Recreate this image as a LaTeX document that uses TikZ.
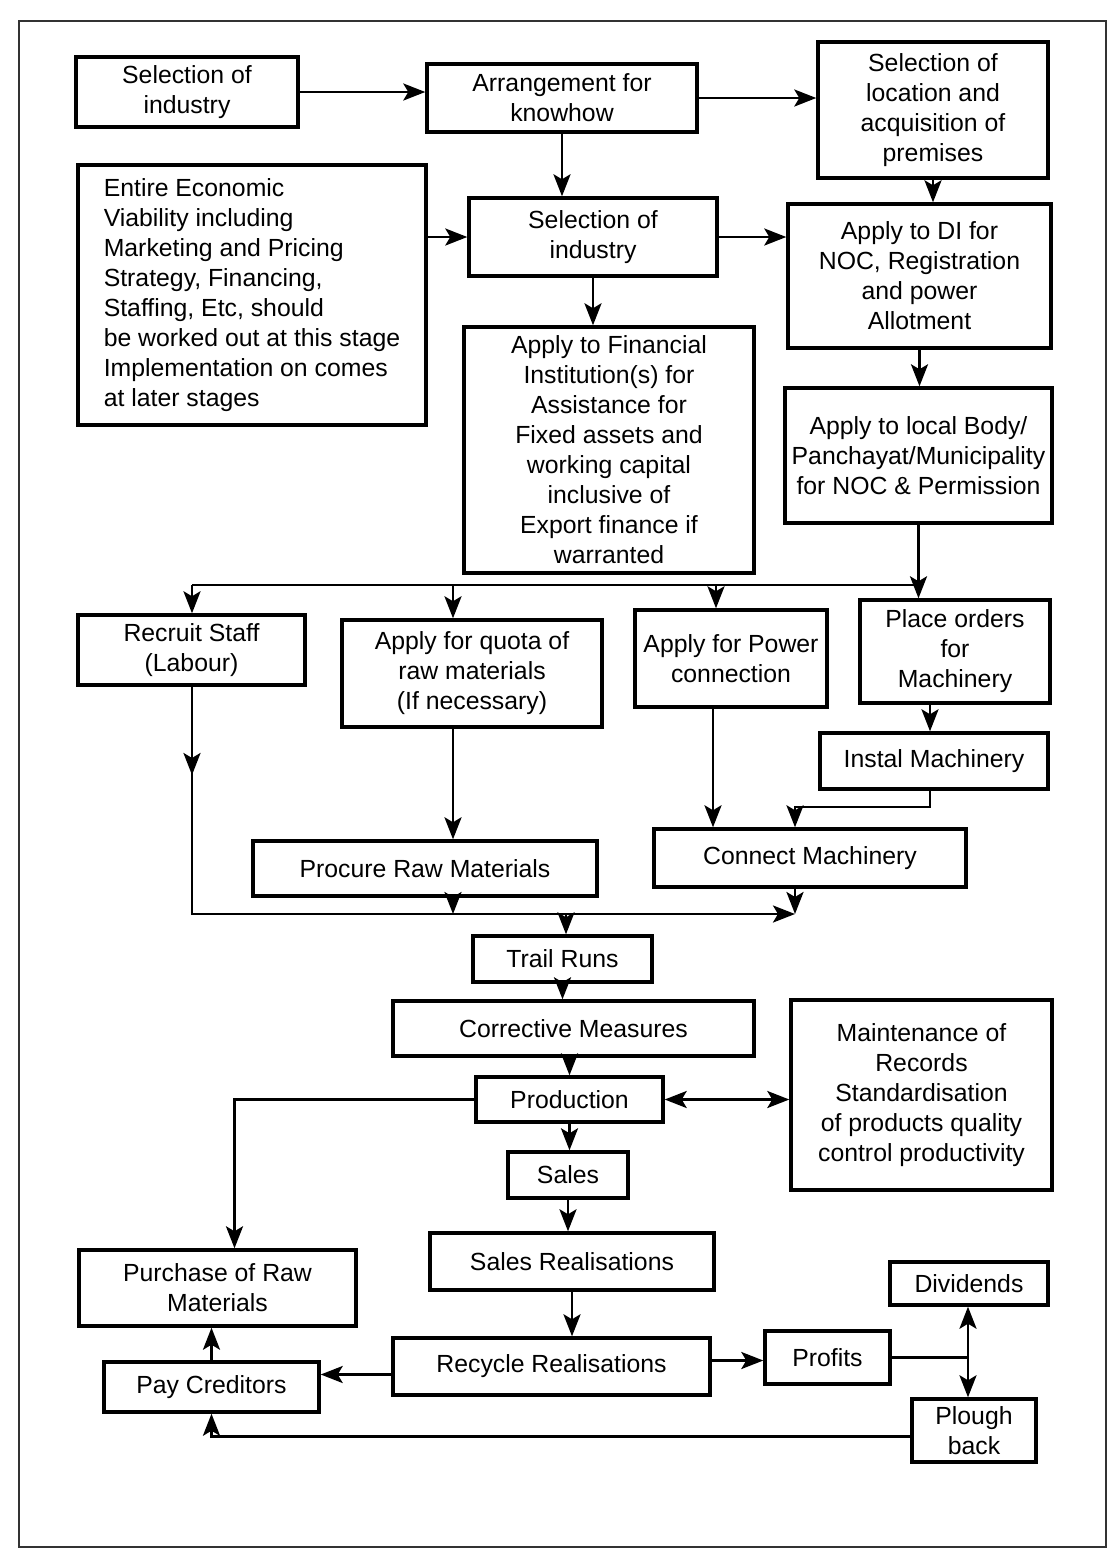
\documentclass[tikz,border=0pt]{standalone}
\usepackage{fontspec}
\setmainfont{Liberation Sans}
\usetikzlibrary{arrows.meta,calc}

% box from corner coordinates: [options]{name}{x1}{y1}{x2}{y2}{text}
\newcommand\fbx[7][]{%
  \pgfmathsetmacro\bw{(#5-#3)*0.5}%
  \pgfmathsetmacro\bh{(#6-#4)*0.5}%
  \node[box,minimum width=\bw pt,minimum height=\bh pt,#1] (#2)
    at ({(#3+#5)/2},{(#4+#6)/2}) {#7};}

\begin{document}
\begin{tikzpicture}[x=0.5pt,y=-0.5pt,
  box/.style={draw,line width=1.7pt,inner sep=0pt,align=center,
    font=\fontsize{12.4}{15}\selectfont},
  link/.style={line width=1.4pt},
  tip/.tip={Stealth[length=11pt,width=8.5pt,inset=2.5pt]},
  arr/.style={link,-tip},
  darr/.style={link,tip-tip}]

\useasboundingbox[fill=white] (0,0) rectangle (1119,1555);
\draw[line width=1pt,black!80] (19,21) rectangle (1106,1547);

% planning stage
\fbx{sel1}{76}{57}{298}{127}{Selection of\\industry}
\fbx{know}{427}{64}{697}{132}{Arrangement for\\knowhow}
\fbx{loc}{818}{42}{1048}{178}{Selection of\\location and\\acquisition of\\premises}
\fbx[align=left]{ent}{78}{165}{426}{425}{Entire Economic\\Viability including\\Marketing and Pricing\\Strategy, Financing,\\Staffing, Etc, should\\be worked out at this stage\\Implementation on comes\\at later stages}
\fbx{sel2}{469}{198}{717}{276}{Selection of\\industry}
\fbx{di}{788}{204}{1051}{348}{Apply to DI for\\NOC, Registration\\and power\\Allotment}
\fbx{fin}{464}{327}{754}{573}{Apply to Financial\\Institution(s) for\\Assistance for\\Fixed assets and\\working capital\\inclusive of\\Export finance if\\warranted}
\fbx{local}{785}{388}{1052}{523}{Apply to local Body/\\Panchayat/Municipality\\for NOC \& Permission}

% implementation stage
\fbx{recruit}{78}{615}{305}{685}{Recruit Staff\\(Labour)}
\fbx{quota}{342}{620}{602}{727}{Apply for quota of\\raw materials\\(If necessary)}
\fbx{power}{635}{610}{827}{707}{Apply for Power\\connection}
\fbx{place}{860}{600}{1050}{703}{Place orders\\for\\Machinery}
\fbx{instal}{820}{733}{1048}{789}{Instal Machinery}
\fbx{procure}{253}{841}{597}{896}{Procure Raw Materials}
\fbx{connect}{654}{829}{966}{887}{Connect Machinery}
\fbx{trail}{473}{936}{652}{982}{Trail Runs}
\fbx{corr}{393}{1001}{754}{1056}{Corrective Measures}
\fbx{maint}{791}{1000}{1052}{1190}{Maintenance of\\Records\\Standardisation\\of products quality\\control productivity}
\fbx{prod}{476}{1077}{663}{1122}{Production}
\fbx{sales}{508}{1152}{628}{1198}{Sales}
\fbx{sreal}{430}{1233}{714}{1290}{Sales Realisations}
\fbx{purch}{79}{1250}{356}{1326}{Purchase of Raw\\Materials}
\fbx{divid}{890}{1262}{1048}{1305}{Dividends}
\fbx{recyc}{393}{1338}{710}{1395}{Recycle Realisations}
\fbx{profit}{765}{1331}{890}{1384}{Profits}
\fbx{pay}{104}{1362}{319}{1412}{Pay Creditors}
\fbx{plough}{912}{1399}{1036}{1462}{Plough\\back}

% junction points of the connectors
\coordinate (busR) at (919,585);
\coordinate (busL) at (192,585);
\coordinate (busQ) at (453,585);
\coordinate (busP) at (716,585);
\coordinate (rawX) at (453,0);
\coordinate (powX) at (713,0);
\coordinate (macX) at (930,0);
\coordinate (jmac) at (795,807);
\coordinate (botR) at (795,914);
\coordinate (botT) at (566,914);
\coordinate (midR) at (192,775);
\coordinate (jdiv) at (968,1357);
\coordinate (purIn) at ($(purch.north)+(17,0)$);
\coordinate (recL) at ($(recyc.west)+(0,8)$);
\coordinate (recR) at ($(recyc.east)+(0,-6)$);
\coordinate (plL) at ($(plough.west)+(0,6)$);

% top section
\draw[arr] (sel1.east) -- (sel1.east -| know.west);
\draw[arr] (know.east) -- (know.east -| loc.west);
\draw[arr] (know.south) -- (know.south |- sel2.north);
\draw[arr] (loc.south) -- (loc.south |- di.north);
\draw[arr] (sel2.west -| ent.east) -- (sel2.west);
\draw[arr] (sel2.east) -- (sel2.east -| di.west);
\draw[arr] (sel2.south) -- (sel2.south |- fin.north);
\draw[arr] (di.south) -- (di.south |- local.north);

% distribution bus
\draw[arr] (local.south) -- (local.south |- place.north);
\draw[link] (busR) -- (busL);
\draw[arr] (busL) -- (busL |- recruit.north);
\draw[arr] (busQ) -- (busQ |- quota.north);
\draw[arr] (busP) -- (busP |- power.north);

% middle section
\draw[arr] (quota.south -| rawX) -- (procure.north -| rawX);
\draw[arr] (power.south -| powX) -- (connect.north -| powX);
\draw[arr] (place.south -| macX) -- (instal.north -| macX);
\draw[arr] (instal.south -| macX) |- (jmac) -- (jmac |- connect.north);
\draw[arr] (recruit.south -| midR) -- (midR);
\draw[arr] (recruit.south -| midR) |- (botR);
\draw[arr] (procure.south -| rawX) -- (rawX |- botR);
\draw[arr] (connect.south -| botR) -- (botR);
\draw[arr] (botT) -- (botT |- trail.north);

% production cycle
\draw[arr] (trail.south) -- (trail.south |- corr.north);
\draw[arr] (prod.north |- corr.south) -- (prod.north);
\draw[darr] (prod.east) -- (prod.east -| maint.west);
\draw[arr] (prod.west) -| (purIn);
\draw[arr] (prod.south) -- (prod.south |- sales.north);
\draw[arr] (sales.south) -- (sales.south |- sreal.north);
\draw[arr] (sreal.south) -- (sreal.south |- recyc.north);
\draw[arr] (recL) -- (recL -| pay.east);
\draw[arr] (recR) -- (recR -| profit.west);
\draw[link] (profit.east) -- (profit.east -| jdiv);
\draw[arr] (jdiv) -- (jdiv |- divid.south);
\draw[arr] (jdiv) -- (jdiv |- plough.north);
\draw[arr] (plL) -| (pay.south);
\draw[arr] (pay.north) -- (pay.north |- purch.south);
\end{tikzpicture}
\end{document}
